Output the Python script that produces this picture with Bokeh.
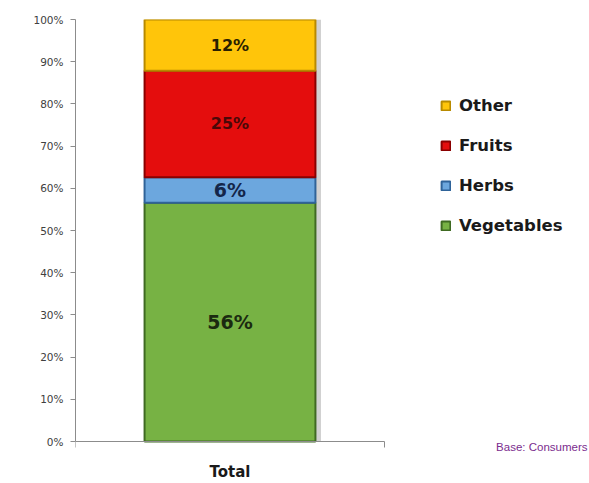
from bokeh.plotting import figure
from bokeh.models import (ColumnDataSource, Range1d, NumeralTickFormatter,
                          FixedTicker, Legend, LegendItem, Label)
from bokeh.transform import dodge
from bokeh.core.properties import value
from bokeh.embed import file_html
from bokeh.resources import INLINE

# ---- data ----
categories = ["Total"]
series = ["Vegetables", "Herbs", "Fruits", "Other"]
vegetables = [56]
herbs = [6]
fruits = [25]
other = [12]
y_ticks = [0, 0.1, 0.2, 0.3, 0.4, 0.5, 0.6, 0.7, 0.8, 0.9, 1.0]
note_text = "Base: Consumers"

# ---- styles ----
fill_colors = ["#77B244", "#6CA7DE", "#E40D0D", "#FFC50A"]
edge_colors = ["#3F6A22", "#2F6399", "#8A0000", "#B88A00"]
label_colors = ["#1B2A10", "#14264A", "#4A0808", "#2A2000"]
label_sizes = ["19px", "19px", "16px", "16px"]

raw = {"Vegetables": vegetables, "Herbs": herbs, "Fruits": fruits, "Other": other}
idx = list(range(len(categories)))
total = [sum(raw[s][i] for s in series) for i in idx]
data = {"x": idx, "top": [1.0] * len(idx)}
for s in series:
    data[s] = [raw[s][i] / total[i] for i in idx]
src = ColumnDataSource(data)

# layout: plot frame spans the whole width right of the y axis
W, H = 589, 483
LEFT, TOP = 75, 19
AXIS_Y = 441          # pixel row of the 0% baseline
SLOT_PX = 309         # pixel width of one category slot
frame_w = W - LEFT
unit_px = (AXIS_Y - TOP)
x_end = -0.5 + frame_w / SLOT_PX * len(categories)
y_start = -(H - AXIS_Y) / unit_px

p = figure(width=W, height=H, x_range=Range1d(-0.5, x_end), y_range=Range1d(y_start, 1),
           output_backend="svg", toolbar_location=None,
           min_border_left=LEFT, min_border_right=0, min_border_top=TOP, min_border_bottom=0)
p.outline_line_color = None
p.xgrid.grid_line_color = None
p.ygrid.grid_line_color = None
p.background_fill_color = "white"
p.border_fill_color = "white"

BAR_W = 0.553
# shadow
p.vbar(x=dodge("x", 0.018), top="top", width=BAR_W, source=src,
       fill_color="#9a9a9a", fill_alpha=0.45, line_color=None)

renderers = p.vbar_stack(series, x="x", width=BAR_W, source=src,
                         fill_color=fill_colors, line_color=edge_colors, line_width=2)

# data labels
cum = [0.0] * len(idx)
for k, s in enumerate(series):
    mids, texts = [], []
    for i in idx:
        v = data[s][i]
        mids.append(cum[i] + v / 2)
        texts.append(f"{raw[s][i]}%")
        cum[i] += v
    lsrc = ColumnDataSource({"x": idx, "y": mids, "t": texts})
    p.text(x="x", y="y", text="t", source=lsrc, text_align="center", text_baseline="middle",
           text_font=value("DejaVu Sans"), text_font_style="bold",
           text_font_size=label_sizes[k], text_color=label_colors[k])

# y axis
p.yaxis.ticker = FixedTicker(ticks=y_ticks)
p.yaxis.bounds = (0, 1)
p.yaxis.formatter = NumeralTickFormatter(format="0%")
p.yaxis.major_label_text_font = "DejaVu Sans"
p.yaxis.major_label_text_font_size = "10.5px"
p.yaxis.major_label_text_color = "#404040"
p.yaxis.axis_line_color = "#8C8C8C"
p.yaxis.major_tick_line_color = "#8C8C8C"
p.yaxis.major_tick_out = 5
p.yaxis.major_tick_in = 0
p.yaxis.minor_tick_line_color = None
p.yaxis.major_label_standoff = 7

# x axis drawn at the 0% line, only across the category slots
slot_edges = [i - 0.5 for i in idx] + [idx[-1] + 0.5]
p.xaxis.fixed_location = 0
p.xaxis.bounds = (slot_edges[0], slot_edges[-1])
p.xaxis.ticker = FixedTicker(ticks=idx, minor_ticks=slot_edges)
p.xaxis.major_label_overrides = {i: c for i, c in zip(idx, categories)}
p.xaxis.axis_line_color = "#8C8C8C"
p.xaxis.major_tick_line_color = None
p.xaxis.minor_tick_line_color = "#8C8C8C"
p.xaxis.minor_tick_out = 6
p.xaxis.minor_tick_in = 0
p.xaxis.major_label_text_font = "DejaVu Sans"
p.xaxis.major_label_text_font_style = "bold"
p.xaxis.major_label_text_font_size = "15px"
p.xaxis.major_label_text_color = "#1a1a1a"
p.xaxis.major_label_standoff = 15

# legend (reverse order)
items = [LegendItem(label=s, renderers=[r]) for s, r in zip(series, renderers)][::-1]
legend = Legend(items=items, location=(440 - LEFT, H - 235), margin=0, padding=0,
                border_line_color=None, background_fill_alpha=0,
                glyph_width=11, glyph_height=11, label_standoff=8, spacing=20,
                label_height=20, label_text_font="DejaVu Sans",
                label_text_font_style="bold", label_text_font_size="16.5px",
                label_text_color="#1a1a1a")
p.add_layout(legend, "center")

note = Label(x=587 - LEFT, y=H - 452, x_units="screen", y_units="screen", text=note_text,
             text_font="Liberation Sans", text_font_size="11.5px", text_color="#7B2C8E",
             text_align="right", text_baseline="bottom")
p.add_layout(note)

open("out.html", "w").write(file_html(p, INLINE))
